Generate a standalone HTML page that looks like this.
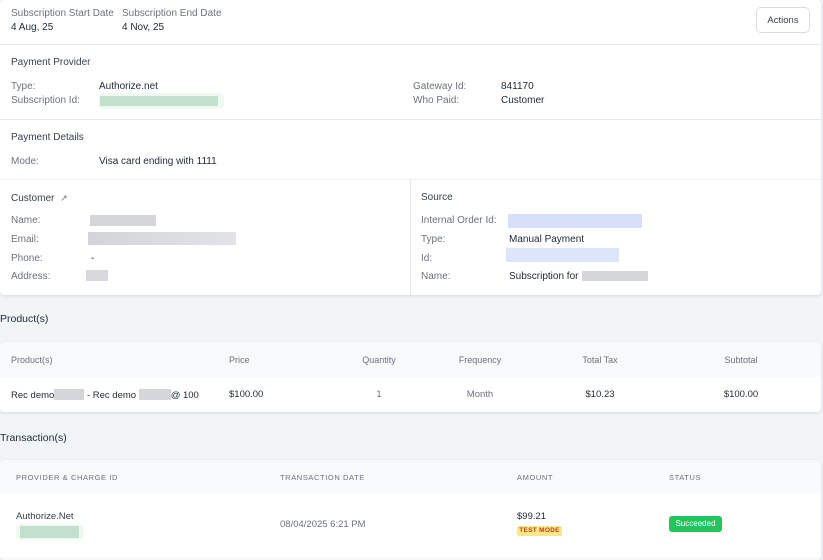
<!DOCTYPE html>
<html><head><meta charset="utf-8"><style>
*{margin:0;padding:0;box-sizing:border-box}
body{width:823px;height:557px;background:#f1f5f8;font-family:"Liberation Sans",sans-serif;position:relative;overflow:hidden;color:#1f2937}
.a{position:absolute;font-size:10px;line-height:12px;white-space:nowrap;margin-top:1px}
.l{color:#6b7280}
.v{color:#1f2937}
.b{position:absolute}
.card{position:absolute;background:#fff;border-radius:4px;box-shadow:0 1px 3px rgba(0,0,0,.12)}
.hr{position:absolute;left:0;width:821px;height:1px;background:#e5e7eb}
.h{color:#6b7280;font-size:9px}
.th{color:#6b7280;font-size:7.5px;letter-spacing:.6px}
</style></head><body>
<div class="card" style="left:0;top:0;width:821px;height:295px"></div>
<div class="hr" style="top:44px"></div>
<div class="hr" style="top:119px"></div>
<div class="hr" style="top:179px;background:#f0f2f5"></div>
<div class="b" style="left:410px;top:179px;width:1px;height:116px;background:#e5e7eb"></div>

<div class="a l" style="left:11px;top:7px">Subscription Start Date</div>
<div class="a v" style="left:11px;top:21px">4 Aug, 25</div>
<div class="a l" style="left:122px;top:7px">Subscription End Date</div>
<div class="a v" style="left:122px;top:21px">4 Nov, 25</div>
<div class="b" style="left:756px;top:7px;width:54px;height:26px;border:1px solid #d9dde3;border-radius:5px;font-size:9.5px;line-height:25px;text-align:center;color:#374151">Actions</div>

<div class="a v" style="left:11px;top:56px;color:#374151">Payment Provider</div>
<div class="a l" style="left:11px;top:80px">Type:</div>
<div class="a v" style="left:99px;top:80px">Authorize.net</div>
<div class="a l" style="left:11px;top:94px">Subscription Id:</div>
<div class="b" style="left:99px;top:93px;width:125px;height:16px;background:#eefaf1;border-radius:4px"></div>
<div class="b" style="left:100px;top:96px;width:118px;height:10px;background:#c2e0cc"></div>
<div class="a l" style="left:413px;top:80px">Gateway Id:</div>
<div class="a v" style="left:501px;top:80px">841170</div>
<div class="a l" style="left:413px;top:94px">Who Paid:</div>
<div class="a v" style="left:501px;top:94px">Customer</div>

<div class="a v" style="left:11px;top:131px;color:#374151">Payment Details</div>
<div class="a l" style="left:11px;top:155px">Mode:</div>
<div class="a v" style="left:99px;top:155px">Visa card ending with 1111</div>

<div class="a v" style="left:11px;top:191px;color:#374151">Customer <span style="font-size:9px;color:#6b7280;margin-left:3px">&#8599;</span></div>
<div class="a l" style="left:11px;top:214px">Name:</div>
<div class="b" style="left:90px;top:215px;width:66px;height:11px;background:#d4d6da"></div>
<div class="a l" style="left:11px;top:233px">Email:</div>
<div class="b" style="left:88px;top:232px;width:148px;height:13px;background:linear-gradient(90deg,#d2d4d8,#e2e3e6)"></div>
<div class="a l" style="left:11px;top:252px">Phone:</div>
<div class="a v" style="left:91px;top:252px">-</div>
<div class="a l" style="left:11px;top:270px">Address:</div>
<div class="b" style="left:86px;top:270px;width:22px;height:11px;background:#d8d9dc"></div>

<div class="a v" style="left:421px;top:191px;color:#374151">Source</div>
<div class="a l" style="left:421px;top:214px">Internal Order Id:</div>
<div class="b" style="left:508px;top:214px;width:134px;height:14px;background:#d6e0fb"></div>
<div class="a l" style="left:421px;top:233px">Type:</div>
<div class="a v" style="left:509px;top:233px">Manual Payment</div>
<div class="a l" style="left:421px;top:252px">Id:</div>
<div class="b" style="left:506px;top:248px;width:113px;height:14px;background:#dde5fb"></div>
<div class="a l" style="left:421px;top:270px">Name:</div>
<div class="a v" style="left:509px;top:270px">Subscription for</div>
<div class="b" style="left:582px;top:271px;width:66px;height:10px;background:#d4d6da"></div>

<div class="a v" style="left:0;top:312px;font-size:10.5px">Product(s)</div>
<div class="card" style="left:0;top:342px;width:821px;height:70px;background:#f7f9fb"></div>
<div class="b" style="left:0;top:377px;width:821px;height:35px;background:#fff;border-radius:0 0 4px 4px"></div>
<div class="a h" style="left:11px;top:353px">Product(s)</div>
<div class="a h" style="left:229px;top:353px">Price</div>
<div class="a h" style="left:379px;top:353px;transform:translateX(-50%)">Quantity</div>
<div class="a h" style="left:480px;top:353px;transform:translateX(-50%)">Frequency</div>
<div class="a h" style="left:600px;top:353px;transform:translateX(-50%)">Total Tax</div>
<div class="a h" style="left:741px;top:353px;transform:translateX(-50%)">Subtotal</div>
<div class="a v" style="left:11px;top:388px;font-size:9.5px">Rec demo<span style="display:inline-block;width:30px;height:11px;background:#d4d6da;vertical-align:-2px"></span> - Rec demo <span style="display:inline-block;width:32px;height:11px;background:#d4d6da;vertical-align:-2px"></span>@ 100</div>
<div class="a v" style="left:229px;top:388px;font-size:9.5px">$100.00</div>
<div class="a l" style="left:379px;top:388px;font-size:9.5px;transform:translateX(-50%)">1</div>
<div class="a l" style="left:480px;top:388px;font-size:9.5px;transform:translateX(-50%)">Month</div>
<div class="a v" style="left:600px;top:388px;font-size:9.5px;transform:translateX(-50%)">$10.23</div>
<div class="a v" style="left:741px;top:388px;font-size:9.5px;transform:translateX(-50%)">$100.00</div>

<div class="a v" style="left:0;top:431px;font-size:10.5px">Transaction(s)</div>
<div class="card" style="left:0;top:460px;width:821px;height:100px;background:#f7f9fb"></div>
<div class="b" style="left:0;top:493px;width:821px;height:64px;background:#fff"></div>
<div class="a th" style="left:16px;top:471px">PROVIDER &amp; CHARGE ID</div>
<div class="a th" style="left:280px;top:471px">TRANSACTION DATE</div>
<div class="a th" style="left:517px;top:471px">AMOUNT</div>
<div class="a th" style="left:669px;top:471px">STATUS</div>
<div class="a v" style="left:16px;top:510px;font-size:9.5px;color:#374151">Authorize.Net</div>
<div class="b" style="left:16px;top:524px;width:68px;height:16px;background:#eefaf1;border-radius:5px"></div>
<div class="b" style="left:20px;top:526px;width:59px;height:12px;background:#c2e0cc"></div>
<div class="a l" style="left:280px;top:518px;font-size:9.5px">08/04/2025 6:21 PM</div>
<div class="a v" style="left:517px;top:510px;font-size:9.5px">$99.21</div>
<div class="b" style="left:517px;top:526px;width:45px;height:10px;background:#fde68a;border-radius:2px;font-size:6.5px;line-height:10px;text-align:center;color:#c2410c;font-weight:bold;letter-spacing:.3px">TEST MODE</div>
<div class="b" style="left:669px;top:516px;width:53px;height:16px;background:#22c55e;border-radius:3px;font-size:8px;line-height:16px;text-align:center;color:#fff">Succeeded</div>
</body></html>
